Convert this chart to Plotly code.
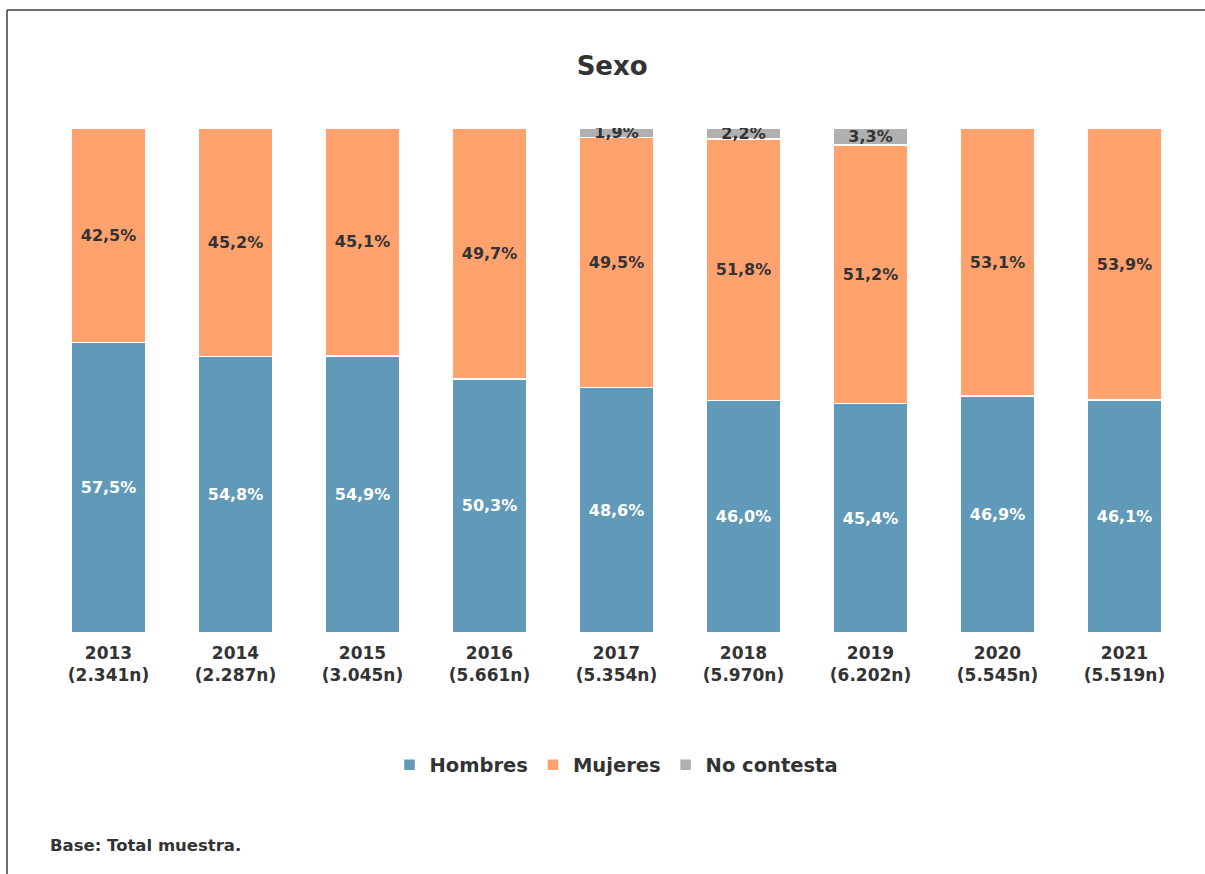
import plotly.graph_objects as go

categories = ["2013<br>(2.341n)", "2014<br>(2.287n)", "2015<br>(3.045n)", "2016<br>(5.661n)",
              "2017<br>(5.354n)", "2018<br>(5.970n)", "2019<br>(6.202n)", "2020<br>(5.545n)",
              "2021<br>(5.519n)"]
hombres = [57.5, 54.8, 54.9, 50.3, 48.6, 46.0, 45.4, 46.9, 46.1]
mujeres = [42.5, 45.2, 45.1, 49.7, 49.5, 51.8, 51.2, 53.1, 53.9]
no_contesta = [0, 0, 0, 0, 1.9, 2.2, 3.3, 0, 0]

FONT = "DejaVu Sans"
DARK = "#333333"


def labels(vals):
    return [(f"{v:.1f}".replace(".", ",") + "%") if v else "" for v in vals]


fig = go.Figure()
series = [
    ("Hombres", hombres, "#609AB8", "white"),
    ("Mujeres", mujeres, "#FFA26E", DARK),
    ("No contesta", no_contesta, "#B0B0B0", DARK),
]
for name, vals, color, tcol in series:
    fig.add_trace(go.Bar(
        x=categories, y=vals, name=name,
        marker=dict(color=color, line=dict(color="white", width=1.5)),
        text=labels(vals), textposition="inside", insidetextanchor="middle",
        textangle=0, constraintext="none",
        insidetextfont=dict(family=FONT, size=16, color=tcol, weight="bold"),
        hoverinfo="skip",
    ))

L, R, T, B = 45, 17, 128, 241
W, H = 1205, 874
ph = H - T - B
pw = W - L - R


def px(xp):
    return (xp - L) / pw


def py(yp):
    return (H - B - yp) / ph


fig.update_layout(
    width=W, height=H,
    margin=dict(l=L, r=R, t=T, b=B, autoexpand=False),
    barmode="stack", bargap=0.42,
    separators=",.",
    paper_bgcolor="white", plot_bgcolor="white",
    title=dict(text="<b>Sexo</b>", x=0.508, xanchor="center", xref="container",
               y=1 - 66 / H, yanchor="middle", yref="container",
               font=dict(family=FONT, size=26, color=DARK)),
    xaxis=dict(showgrid=False, showline=False, ticks="", zeroline=False,
               ticklabelstandoff=8,
               tickfont=dict(family=FONT, size=17, color=DARK, weight="bold")),
    yaxis=dict(range=[0, 100], visible=False, fixedrange=True),
    legend=dict(orientation="h", x=0.5, xanchor="center", y=py(765), yanchor="middle",
                font=dict(family=FONT, size=19.5, color=DARK, weight="bold"),
                traceorder="normal", itemclick=False),
    showlegend=True,
    shapes=[
        dict(type="line", xref="paper", yref="paper", x0=px(7), x1=px(1205), y0=py(10), y1=py(10),
             line=dict(color="#404040", width=1.5)),
        dict(type="line", xref="paper", yref="paper", x0=px(7), x1=px(7), y0=py(10), y1=py(874),
             line=dict(color="#404040", width=1.5)),
    ],
    annotations=[
        dict(text="<b>Base: Total muestra.</b>", xref="paper", yref="paper",
             x=px(48), y=py(845), xanchor="left", yanchor="middle", showarrow=False,
             font=dict(family=FONT, size=16.5, color=DARK)),
    ],
)

fig.write_html("out.html", config={"displayModeBar": False},
               post_script="document.body.style.margin='0';document.body.style.overflow='hidden';")
